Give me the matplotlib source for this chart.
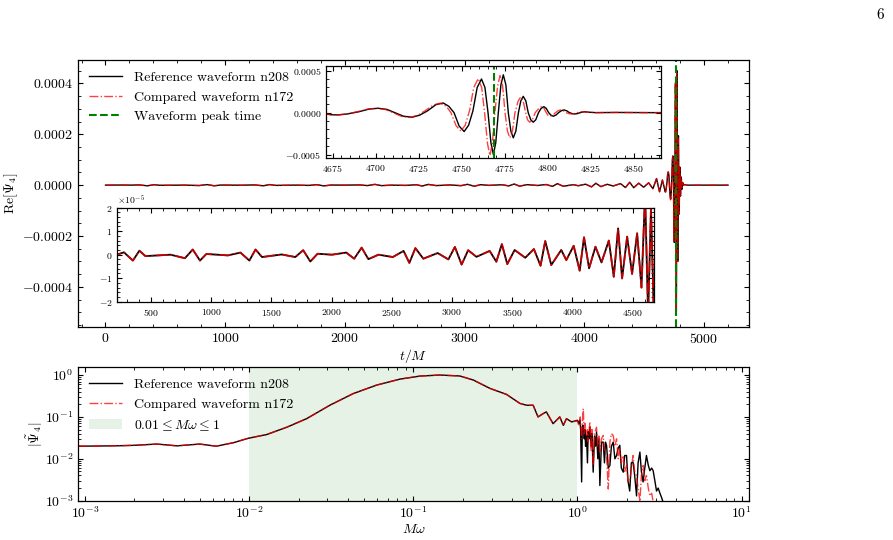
import numpy as np
import matplotlib.pyplot as plt
from matplotlib.patches import Patch
from matplotlib.lines import Line2D

plt.rcParams.update({
    'font.family': 'serif',
    'font.serif': ['cmr10'],
    'mathtext.fontset': 'cm',
    'axes.formatter.use_mathtext': True,
    'font.size': 10,
    'xtick.direction': 'in',
    'ytick.direction': 'in',
    'xtick.top': True,
    'ytick.right': True,
    'xtick.minor.visible': True,
    'ytick.minor.visible': True,
    'xtick.major.size': 3.5,
    'ytick.major.size': 3.5,
    'xtick.minor.size': 2,
    'ytick.minor.size': 2,
    'axes.linewidth': 0.9,
})

# inspiral part, Re[Psi4] in units of 1e-5 (same for both resolutions)
insp_t = [0, 120, 217, 277, 351, 405, 455, 664, 783, 848, 908, 961, 1140, 1244,
          1318, 1369, 1423, 1586, 1699, 1765, 1824, 1884, 2003, 2122, 2188, 2250,
          2306, 2390, 2509, 2598, 2646, 2696, 2762, 2881, 2970, 3024, 3080, 3134,
          3203, 3313, 3368, 3414, 3459, 3520, 3608, 3680, 3735, 3774, 3824, 3907,
          3949, 4010, 4060, 4096, 4138, 4191, 4241, 4302, 4343, 4379, 4412, 4454,
          4495, 4537, 4573, 4603, 4628, 4652]
insp_val = [0.0, 0.04, 0.0, 0.1, -0.25, 0.17, -0.06, 0.0, -0.15, 0.22, -0.25, 0.03,
            -0.03, 0.09, -0.25, 0.22, -0.1, 0.01, -0.1, 0.19, -0.29, 0.04, 0.0,
            0.09, -0.17, 0.3, -0.19, 0.0, -0.1, 0.16, -0.35, 0.28, -0.17, 0.07,
            -0.2, 0.33, -0.42, 0.19, -0.09, 0.16, -0.3, 0.45, -0.4, 0.2, -0.13,
            0.24, -0.47, 0.58, -0.44, 0.2, -0.23, 0.38, -0.68, 0.74, -0.58, 0.34,
            -0.33, 0.6, -0.94, 1.12, -1.01, 0.77, -0.82, 0.91, -1.4, 2.6, -2.6, 2.0]

# merger/ringdown, units of 1e-4
ref_merge_t = [4670.2, 4674, 4678, 4683, 4690, 4696, 4701.3, 4706.5, 4711, 4716,
               4721.1, 4725.5, 4730, 4735, 4739.2, 4742.5, 4745.5, 4748.5, 4751.4,
               4754, 4756.5, 4759, 4761.5, 4763.5, 4765.3, 4767, 4768.4, 4769.8,
               4771.3, 4772.8, 4774.2, 4775.7, 4777.1, 4778.6, 4780, 4781.5, 4783,
               4784.4, 4785.8, 4787.3, 4788.7, 4790.2, 4791.6, 4793.1, 4794.7,
               4796.2, 4797.8, 4799.2, 4800.6, 4802, 4803.3, 4804.8, 4806.4, 4808,
               4809.5, 4811, 4812.7, 4814.3, 4815.9, 4817.5, 4819, 4820.4, 4821.7,
               4824, 4828, 4840, 4860, 4900, 5000, 5200]
ref_merge_val = [-0.15, -0.25, -0.27, -0.17, 0.1, 0.42, 0.52, 0.38, 0.0, -0.42,
                 -0.55, -0.3, 0.2, 0.95, 1.15, 0.75, 0.0, -1.6, -2.25, -1.5, 0.2,
                 3.0, 4.0, 3.0, 0.0, -3.6, -4.98, -3.6, 0.0, 3.3, 4.5, 3.3, 0.0,
                 -2.2, -3.0, -2.2, 0.0, 1.4, 1.94, 1.4, 0.0, -0.85, -1.14, -0.85,
                 0.0, 0.5, 0.71, 0.5, 0.0, -0.31, -0.43, -0.3, 0.0, 0.23, 0.32,
                 0.23, 0.0, -0.12, -0.16, -0.11, 0.0, 0.07, 0.1, 0.05, 0.0, 0.02,
                 0.0, 0.0, 0.0, 0.0]
cmp_merge_t = [4670.2, 4674, 4678, 4683, 4689.5, 4695.5, 4700.5, 4705.5, 4710,
               4715, 4720, 4724.5, 4728.5, 4733.5, 4737.5, 4741, 4743.7, 4746.7,
               4749.5, 4752, 4754.5, 4757, 4759.6, 4761.6, 4763.3, 4765, 4766.4,
               4767.8, 4769.3, 4770.9, 4772.3, 4773.8, 4775.2, 4776.6, 4778,
               4779.5, 4781, 4782.8, 4784.3, 4785.8, 4787.2, 4788.3, 4789.6,
               4791.1, 4792.8, 4794.9, 4796.5, 4797.9, 4799.2, 4800.2, 4801.5,
               4803, 4804.6, 4806.1, 4807.5, 4809.1, 4810.7, 4812.4, 4814, 4815.6,
               4817.2, 4818.7, 4820, 4823, 4828, 4840, 4860, 4900, 5000, 5200]
cmp_merge_val = [-0.15, -0.25, -0.27, -0.16, 0.12, 0.43, 0.52, 0.38, 0.0, -0.45,
                 -0.58, -0.3, 0.2, 0.92, 1.12, 0.75, 0.0, -1.55, -2.2, -1.5, 0.2,
                 3.0, 4.05, 3.0, 0.0, -3.7, -5.1, -3.7, 0.0, 3.2, 4.4, 3.2, 0.0,
                 -2.2, -3.0, -2.2, 0.0, 1.35, 1.85, 1.35, 0.0, -0.85, -1.14, -0.85,
                 0.0, 0.5, 0.71, 0.5, 0.0, -0.31, -0.43, -0.3, 0.0, 0.23, 0.32,
                 0.23, 0.0, -0.12, -0.16, -0.11, 0.0, 0.07, 0.1, 0.05, 0.0, 0.02,
                 0.0, 0.0, 0.0, 0.0]
t_peak = 4768.5

# spectrum |Psi4~|, smooth part shared
spec_f = [9.1e-4, 1.2e-3, 1.6e-3, 2.0e-3, 2.74e-3, 3.63e-3, 5.0e-3, 6.3e-3, 8.0e-3,
          9.9e-3, 0.0128, 0.017, 0.0224, 0.031, 0.043, 0.0597, 0.083, 0.11, 0.145,
          0.192, 0.232, 0.293, 0.37, 0.446, 0.49, 0.537, 0.575, 0.618, 0.646, 0.71,
          0.78, 0.82, 0.857, 0.92]
spec_amp = [0.020, 0.0202, 0.0205, 0.021, 0.0225, 0.0204, 0.0225, 0.0200, 0.0242,
            0.031, 0.038, 0.057, 0.091, 0.19, 0.36, 0.575, 0.80, 0.946, 1.0, 0.95,
            0.76, 0.48, 0.344, 0.21, 0.19, 0.19, 0.10, 0.12, 0.132, 0.069, 0.10,
            0.063, 0.091, 0.076]
ref_noise_f = [1.00, 1.02, 1.034, 1.045, 1.06, 1.07, 1.084, 1.10, 1.11, 1.12, 1.135,
               1.15, 1.162, 1.175, 1.19, 1.21, 1.225, 1.246, 1.27, 1.29, 1.306, 1.33,
               1.35, 1.369, 1.40, 1.435, 1.46, 1.48, 1.503, 1.54, 1.575, 1.61, 1.65,
               1.69, 1.73, 1.77, 1.81, 1.85, 1.90, 1.94, 1.99, 2.03, 2.08, 2.13, 2.18,
               2.23, 2.29, 2.34, 2.40, 2.45, 2.51, 2.57, 2.63, 2.70, 2.76, 2.83, 2.89,
               2.96, 3.03, 3.10, 3.18, 3.25, 3.33]
ref_noise_amp = [0.083, 0.07, 0.085, 0.05, 0.0028, 0.06, 0.063, 0.03, 0.05, 0.02,
                 0.036, 0.008, 0.045, 0.03, 0.057, 0.02, 0.04, 0.0048, 0.035, 0.02,
                 0.044, 0.01, 0.03, 0.0023, 0.025, 0.025, 0.008, 0.025, 0.021, 0.006,
                 0.0069, 0.02, 0.025, 0.01, 0.012, 0.018, 0.021, 0.006, 0.0048, 0.012,
                 0.012, 0.003, 0.0017, 0.008, 0.0083, 0.004, 0.0013, 0.008, 0.0145,
                 0.005, 0.0028, 0.006, 0.012, 0.007, 0.0052, 0.006, 0.0052, 0.003,
                 0.0017, 0.002, 0.0015, 0.0012, 0.0009]
cmp_noise_f = [1.00, 1.02, 1.04, 1.06, 1.084, 1.10, 1.11, 1.135, 1.15, 1.162, 1.19,
               1.21, 1.225, 1.246, 1.27, 1.306, 1.33, 1.35, 1.369, 1.40, 1.435, 1.46,
               1.503, 1.54, 1.575, 1.61, 1.65, 1.69, 1.73, 1.77, 1.81, 1.85, 1.90,
               1.94, 1.99, 2.03, 2.08, 2.13, 2.18, 2.23, 2.29, 2.34, 2.40, 2.45, 2.51,
               2.57, 2.63, 2.70, 2.76, 2.83, 2.89]
cmp_noise_amp = [0.08, 0.06, 0.1, 0.03, 0.158, 0.04, 0.07, 0.036, 0.05, 0.025, 0.076,
                 0.015, 0.05, 0.0069, 0.04, 0.057, 0.02, 0.035, 0.0145, 0.03, 0.036,
                 0.015, 0.012, 0.0019, 0.025, 0.04, 0.036, 0.02, 0.030, 0.01, 0.0174,
                 0.008, 0.012, 0.005, 0.0069, 0.003, 0.0028, 0.006, 0.012, 0.005,
                 0.004, 0.002, 0.00095, 0.004, 0.0069, 0.003, 0.004, 0.002, 0.0013,
                 0.0015, 0.00095]

lab_ref = 'Reference waveform n208'
lab_cmp = 'Compared waveform n172'

t_ref = np.array(insp_t + ref_merge_t)
v_ref = np.concatenate([np.array(insp_val) * 1e-5, np.array(ref_merge_val) * 1e-4])
t_cmp = np.array(insp_t + cmp_merge_t)
v_cmp = np.concatenate([np.array(insp_val) * 1e-5, np.array(cmp_merge_val) * 1e-4])
f_ref = np.array(spec_f + ref_noise_f)
a_ref = np.array(spec_amp + ref_noise_amp)
f_cmp = np.array(spec_f + cmp_noise_f)
a_cmp = np.array(spec_amp + cmp_noise_amp)

red_kw = dict(color='red', ls='-.', lw=1.0, alpha=0.75)
blk_kw = dict(color='black', ls='-', lw=1.0)

fig = plt.figure(figsize=(8.93, 5.4), dpi=100)

# top panel
ax1 = fig.add_axes([0.0873, 0.3944, 0.7514, 0.4944])
ax1.plot(t_ref, v_ref, **blk_kw)
ax1.plot(t_cmp, v_cmp, **red_kw)
ax1.axvline(t_peak, color='green', ls='--', lw=1.5)
ax1.set_xlim(-230, 5375)
ax1.set_ylim(-0.000558, 0.000492)
ax1.set_yticks([-0.0004, -0.0002, 0.0, 0.0002, 0.0004])
ax1.set_xlabel(r'$t/M$', labelpad=1)
ax1.set_ylabel(r'$\mathrm{Re}[\Psi_4]$')
ax1.yaxis.set_label_coords(-0.086, 0.5)
handles = [Line2D([], [], **blk_kw), Line2D([], [], **red_kw),
           Line2D([], [], color='green', ls='--', lw=1.5)]
ax1.legend(handles, [lab_ref, lab_cmp, 'Waveform peak time'], loc='upper left',
           frameon=False, fontsize=10, handlelength=2.4, borderaxespad=0.4)

# inset: merger zoom
axa = fig.add_axes([0.3651, 0.7074, 0.3751, 0.1704])
axa.plot(t_ref, v_ref, **blk_kw)
axa.plot(t_cmp, v_cmp, **red_kw)
axa.axvline(t_peak, color='green', ls='--', lw=1.5)
axa.set_xlim(4671, 4866)
axa.set_ylim(-0.00054, 0.000555)
axa.set_xticks([4675, 4700, 4725, 4750, 4775, 4800, 4825, 4850])
axa.set_yticks([-0.0005, 0.0, 0.0005])
axa.tick_params(labelsize=7, which='both')

# inset: inspiral zoom
axb = fig.add_axes([0.1314, 0.4413, 0.6007, 0.1741])
axb.plot(t_ref, v_ref, color='black', lw=1.3)
axb.plot(t_cmp, v_cmp, color='red', ls='-.', lw=1.3, alpha=0.75)
axb.set_xlim(222, 4675)
axb.set_ylim(-2e-5, 2e-5)
axb.set_xticks([500, 1000, 1500, 2000, 2500, 3000, 3500, 4000, 4500])
axb.set_yticks([-2e-5, -1e-5, 0, 1e-5, 2e-5])
axb.ticklabel_format(axis='y', style='sci', scilimits=(0, 0))
axb.tick_params(labelsize=7, which='both')
axb.yaxis.get_offset_text().set_fontsize(7)

# bottom panel: spectrum
ax2 = fig.add_axes([0.0873, 0.0728, 0.7514, 0.2470])
ax2.axvspan(0.01, 1, color='green', alpha=0.1, lw=0)
ax2.loglog(f_ref, a_ref, **blk_kw)
ax2.loglog(f_cmp, a_cmp, **red_kw)
ax2.set_xlim(9.06e-4, 11.08)
ax2.set_ylim(1e-3, 1.53)
ax2.set_xlabel(r'$M\omega$', labelpad=1)
ax2.set_ylabel(r'$|\tilde{\Psi}_4|$')
ax2.yaxis.set_label_coords(-0.049, 0.5)
handles2 = [Line2D([], [], **blk_kw), Line2D([], [], **red_kw),
            Patch(color='green', alpha=0.1, lw=0)]
ax2.legend(handles2, [lab_ref, lab_cmp, r'$0.01 \leq M\omega \leq 1$'],
           loc='upper left', frameon=False, fontsize=10, handlelength=2.4,
           borderaxespad=0.4)

fig.text(880 / 893, 1 - 15 / 540, '6', ha='center', va='center', fontsize=11)

fig.savefig('out.png', dpi=100)
